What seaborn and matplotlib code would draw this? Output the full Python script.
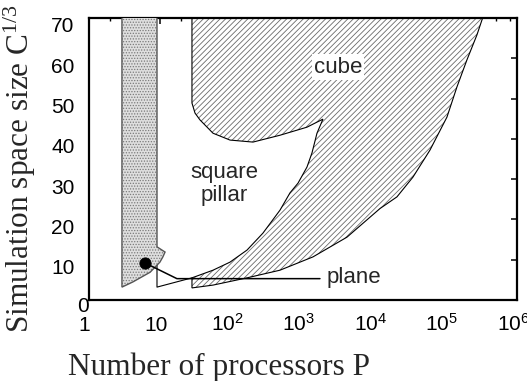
import matplotlib
matplotlib.use("Agg")
import matplotlib.pyplot as plt
import numpy as np
import pandas as pd
import seaborn as sns
from matplotlib.patches import Polygon
from matplotlib.ticker import FixedLocator, NullFormatter
from matplotlib.transforms import ScaledTranslation

# ---- region boundaries: number of processors P vs. space size C^(1/3) ----
plane_P = [2.94, 2.94, 4.2, 7.3, 10.0, 11.0, 11.8, 9.1, 9.1]
plane_C = [72, 3.2, 4.5, 6.9, 9.4, 10.7, 11.9, 13.2, 72]

pillar_base_P = [9.1, 9.1, 28.1]
pillar_base_C = [10.0, 3.2, 5.5]

cube_P = [28.1, 28.1, 31.0, 36.4, 55.4, 95.8, 201, 480, 1146, 1919,
          1582, 1346, 1146, 858, 663, 480, 277, 166, 95.8, 55.4, 28.1,
          28.1, 55.4, 166, 480, 1390, 4160, 12060, 20840, 34900, 60400,
          104500, 144300, 199000, 274800, 330000]
cube_C = [70, 48.9, 46.4, 44.7, 41.4, 39.7, 39.2, 40.9, 42.9, 44.9,
          41.4, 36.5, 33.0, 29.0, 26.6, 22.3, 16.6, 12.4, 9.4, 7.4, 5.5,
          3.0, 3.7, 5.5, 7.4, 10.7, 15.6, 22.7, 25.6, 30.5, 37.2,
          45.4, 52.9, 59.6, 65.8, 70]

plane_point_P = [6.18]
plane_point_C = [9.2]
leader_P = [6.18, 17.3, 1742]
leader_C = [9.2, 5.3, 5.3]

region_labels = ["cube", "square\npillar", "plane"]
region_label_P = [3113, 78.9, 2183]
region_label_C = [57.8, 28.8, 5.6]

xtick_vals = [1, 10, 1e2, 1e3, 1e4, 1e5, 1e6]
xtick_labels = ["1", "10", r"$\mathregular{10^{2}}$", r"$\mathregular{10^{3}}$",
                r"$\mathregular{10^{4}}$", r"$\mathregular{10^{5}}$",
                r"$\mathregular{10^{6}}$"]
ytick_vals = [0, 10, 20, 30, 40, 50, 60, 70]
ytick_labels = ["0", "10", "20", "30", "40", "50", "60", "70"]

# ---- figure ----
sns.set_theme(style="white")
plt.rcParams["font.family"] = ["Liberation Sans", "DejaVu Sans"]
plt.rcParams["hatch.linewidth"] = 0.6

fig = plt.figure(figsize=(5.27, 3.81), dpi=100)
ax = fig.add_axes([88.5 / 527, 81 / 381, (517 - 88.5) / 527, (300 - 18) / 381])
ax.set_facecolor("white")

# cube region: hatched, thin black outline
cube_xy = np.column_stack([cube_P, cube_C])
ax.add_patch(Polygon(cube_xy, closed=True, facecolor="white",
                     edgecolor="#6a6a6a", hatch="//////", linewidth=0, zorder=1))
ax.add_patch(Polygon(cube_xy, closed=True, fill=False,
                     edgecolor="black", linewidth=0.8, zorder=2))

# bottom edge of the square-pillar region
pillar_df = pd.DataFrame({"P": pillar_base_P, "C": pillar_base_C})
sns.lineplot(data=pillar_df, x="P", y="C", sort=False, estimator=None,
             color="black", linewidth=0.8, ax=ax, zorder=2)

# plane region: stippled grey
plane_xy = np.column_stack([plane_P, plane_C])
ax.add_patch(Polygon(plane_xy, closed=True, facecolor="#dedede",
                     edgecolor="#7a7a7a", hatch="......", linewidth=0, zorder=3))
ax.add_patch(Polygon(plane_xy, closed=True, fill=False,
                     edgecolor="#555555", linewidth=1.0, zorder=4))

# marked plane point with leader to its label
leader_df = pd.DataFrame({"P": leader_P, "C": leader_C})
sns.lineplot(data=leader_df, x="P", y="C", sort=False, estimator=None,
             color="black", linewidth=1.1, ax=ax, zorder=5)
point_df = pd.DataFrame({"P": plane_point_P, "C": plane_point_C})
sns.scatterplot(data=point_df, x="P", y="C", s=65, color="black",
                edgecolor="black", ax=ax, zorder=6)

# region labels
ax.text(region_label_P[0], region_label_C[0], region_labels[0], fontsize=16,
        ha="center", va="center", zorder=7,
        bbox=dict(boxstyle="square,pad=0.1", facecolor="white", edgecolor="none"))
ax.text(region_label_P[1], region_label_C[1], region_labels[1], fontsize=16,
        ha="center", va="center", linespacing=1.12, zorder=7)
ax.text(region_label_P[2], region_label_C[2], region_labels[2], fontsize=16,
        ha="left", va="center", zorder=7)

# axes
ax.set_xscale("log")
ax.set_xlim(1, 1e6)
ax.set_ylim(0, 70)
ax.set_xlabel("")
ax.set_ylabel("")
ax.xaxis.set_major_locator(FixedLocator(xtick_vals))
ax.xaxis.set_minor_locator(FixedLocator(
    [s * 10.0 ** d for d in range(6) for s in (2, 5, 8)]))
ax.xaxis.set_minor_formatter(NullFormatter())
ax.set_xticklabels(xtick_labels)
ax.set_yticks(ytick_vals)
ax.set_yticklabels(ytick_labels)

ax.tick_params(which="both", direction="in", top=True, right=True,
               color="black", labelcolor="black", labelsize=15)
ax.tick_params(which="major", length=4.5, width=1.1)
ax.tick_params(which="minor", length=2.2, width=1.0)
ax.tick_params(axis="x", pad=22)
ax.tick_params(axis="y", pad=10)
for sp in ax.spines.values():
    sp.set_visible(True)
    sp.set_color("black")
    sp.set_linewidth(1.6)

for lab in ax.get_xticklabels():
    lab.set_verticalalignment("baseline")
    lab.set_transform(lab.get_transform()
                      + ScaledTranslation(-4 / 100, 0, fig.dpi_scale_trans))
for lab in ax.get_yticklabels():
    if lab.get_text() == "0":
        dx, dy = 14 / 100, -4 / 100
    else:
        dx, dy = 0, -7 / 100
    lab.set_transform(lab.get_transform()
                      + ScaledTranslation(dx, dy, fig.dpi_scale_trans))

# axis titles
serif = ["Liberation Serif", "DejaVu Serif"]
fig.text(219 / 527, 6 / 381, "Number of processors P", family=serif,
         fontsize=22.5, ha="center", va="baseline")
fig.text(20 / 527, 48 / 381, r"Simulation space size C$\mathregular{^{1/3}}$",
         family=serif, fontsize=22.5, rotation=90, ha="center", va="bottom")

fig.savefig("out.png", dpi=100)
